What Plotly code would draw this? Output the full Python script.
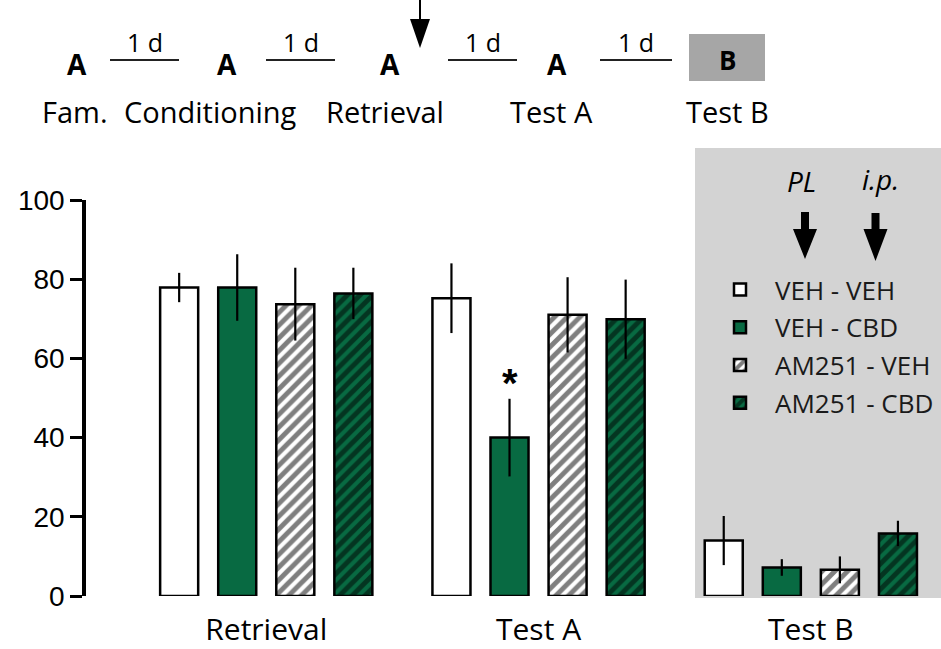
import plotly.graph_objects as go

# ---------------- data ----------------
groups = ["Retrieval", "Test A", "Test B"]
series_names = ["VEH - VEH", "VEH - CBD", "AM251 - VEH", "AM251 - CBD"]
veh_veh = [77.9, 75.2, 14.0]
veh_veh_err = [3.7, 8.8, 6.2]
veh_cbd = [77.9, 40.0, 7.2]
veh_cbd_err = [8.4, 9.8, 2.1]
am_veh = [73.7, 71.0, 6.6]
am_veh_err = [9.2, 9.5, 3.4]
am_cbd = [76.4, 69.9, 15.8]
am_cbd_err = [6.5, 10.0, 3.2]
y_ticks = [0, 20, 40, 60, 80, 100]

GREEN = "#086a42"
PANEL = "#d3d3d3"
CAL = "'Open Sans', Lato, sans-serif"
ARIAL = "'Liberation Sans', Arial, sans-serif"

series = [
    (series_names[0], veh_veh, veh_veh_err, "white", ""),
    (series_names[1], veh_cbd, veh_cbd_err, GREEN, ""),
    (series_names[2], am_veh, am_veh_err, "white", "/"),
    (series_names[3], am_cbd, am_cbd_err, GREEN, "/"),
]

fig = go.Figure()
for i, (name, vals, errs, col, shp) in enumerate(series):
    fig.add_trace(go.Bar(
        x=groups, y=vals, name=name, legendgroup=f"g{i}",
        marker=dict(color=col, line=dict(color="black", width=2.5),
                    pattern=dict(shape=shp, fgcolor="black", bgcolor=col,
                                 size=9, solidity=0.55, fillmode="overlay")),
        error_y=dict(type="data", array=errs, color="black", thickness=2.2, width=0),
    ))

# pixel -> paper helpers for decorations
L, R, T, B = 86, 941, 200, 596
def px(x):
    return (x - L) / (R - L)
def py(y):
    return (B - y) / (B - T)

shapes = []
annotations = []

def label(text, x, y, size, family=CAL):
    annotations.append(dict(text=text, x=px(x), y=py(y), xref="paper", yref="paper",
                            xanchor="center", yanchor="middle", showarrow=False,
                            font=dict(family=family, size=size, color="black")))

# grey Test B panel
shapes.append(dict(type="rect", xref="paper", yref="paper", layer="below",
                   x0=px(695), x1=px(945), y0=py(598), y1=py(148),
                   fillcolor=PANEL, line=dict(width=0)))

# top schema
for xc in [77, 227, 390, 557]:
    label("<b>A</b>", xc, 64, 28)
for x0, x1 in [(110, 179), (266, 335), (448, 517), (600, 672)]:
    shapes.append(dict(type="line", xref="paper", yref="paper",
                       x0=px(x0), x1=px(x1), y0=py(60), y1=py(60),
                       line=dict(color="#222", width=2)))
    label("1 d", (x0 + x1) / 2, 42, 25)
shapes.append(dict(type="rect", xref="paper", yref="paper",
                   x0=px(689), x1=px(765), y0=py(81), y1=py(34),
                   fillcolor="#a6a6a6", line=dict(width=0)))
label("<b>B</b>", 727, 60, 26)
for txt, xc in [("Fam.", 75), ("Conditioning", 210), ("Retrieval", 385), ("Test A", 551), ("Test B", 727)]:
    label(txt, xc, 111, 29)
# top arrow
shapes.append(dict(type="line", xref="paper", yref="paper",
                   x0=px(420), x1=px(420), y0=py(0), y1=py(22), line=dict(color="black", width=2)))
shapes.append(dict(type="path", xref="paper", yref="paper",
                   path=f"M{px(410)},{py(19)} L{px(430)},{py(19)} L{px(420)},{py(48)} Z",
                   fillcolor="black", line=dict(width=0)))

# panel labels and thick arrows
label("<i>PL</i>", 801, 181, 28)
label("<i>i.p.</i>", 880, 179, 28)
for cx, top, tip in [(805, 212, 259), (875.5, 213, 261)]:
    path = (f"M{px(cx-4)},{py(top)} L{px(cx+4)},{py(top)} L{px(cx+4)},{py(229)} "
            f"L{px(cx+12)},{py(229)} L{px(cx)},{py(tip)} L{px(cx-12)},{py(229)} "
            f"L{px(cx-4)},{py(229)} Z")
    shapes.append(dict(type="path", xref="paper", yref="paper", path=path,
                       fillcolor="black", line=dict(width=0)))

# significance star
annotations.append(dict(text="<b>*</b>", x=groups[1], y=veh_cbd[1] + veh_cbd_err[1],
                        xref="x", yref="y", xshift=-29, yshift=16, yanchor="middle",
                        showarrow=False, font=dict(family=ARIAL, size=40, color="black")))

fig.update_layout(
    width=941, height=649, autosize=False,
    margin=dict(l=L, r=941 - R, t=T, b=649 - B, pad=0, autoexpand=False),
    paper_bgcolor="white", plot_bgcolor="rgba(0,0,0,0)",
    barmode="group", bargap=0.147, bargroupgap=0.345,
    shapes=shapes, annotations=annotations,
    legend=dict(x=px(705), y=py(266), xanchor="left", yanchor="top",
                bgcolor="rgba(0,0,0,0)", tracegroupgap=1, itemwidth=60,
                font=dict(family=CAL, size=26, color="#1a1a1a")),
    xaxis=dict(type="category", range=[-0.662, 2.478], showline=False, ticks="",
               showgrid=False, zeroline=False, ticklabelstandoff=13,
               tickfont=dict(family=CAL, size=30, color="black")),
    yaxis=dict(range=[0, 100], tickvals=y_ticks, showline=True, linewidth=3.5,
               linecolor="black", ticks="outside", ticklen=12, tickwidth=3,
               tickcolor="black", showgrid=False, zeroline=False,
               tickfont=dict(family=ARIAL, size=28, color="black")),
)

fig.write_html("out.html", config={"displayModeBar": False},
               post_script="document.body.style.margin='0';")
